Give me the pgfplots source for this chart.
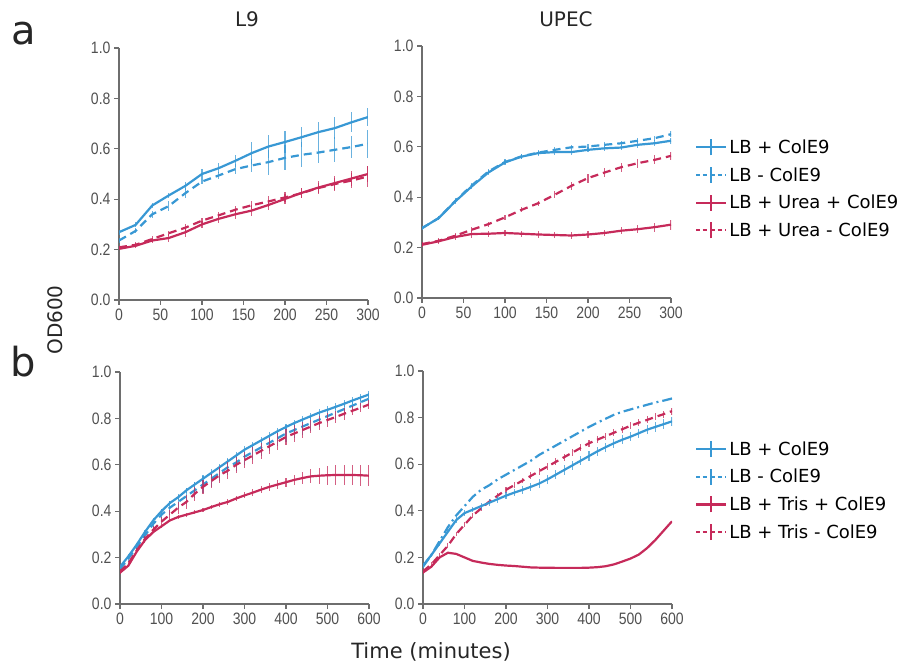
\documentclass[border=0pt]{standalone}
\usepackage{pgfplots}
\pgfplotsset{compat=1.18}
\usepackage{fontspec}
\setmainfont{DejaVu Sans}
\newfontfamily\ticksfont[FakeStretch=0.85]{Liberation Sans}
\definecolor{cblue}{RGB}{56,152,212}
\definecolor{cred}{RGB}{198,42,90}
\definecolor{axgray}{RGB}{110,110,110}
\definecolor{tickgray}{RGB}{80,80,80}
\pgfplotsset{
  legend image code/.code={%
    \draw[#1, line width=2.2pt] (0pt,0pt) -- (30pt,0pt);
    \draw[#1, solid, line width=1.5pt] (15pt,-8pt) -- (15pt,8pt);},
  myaxis/.style={scale only axis, width=249pt, xmin=0, ymin=0, ymax=1,
    axis x line*=bottom, axis y line*=left,
    axis line style={axgray, line width=1.2pt},
    tick style={axgray, line width=1.2pt}, major tick length=5pt,
    xtick align=outside, ytick align=outside,
    ytick={0,0.2,0.4,0.6,0.8,1.0},
    yticklabel style={/pgf/number format/.cd, fixed, fixed zerofill, precision=1},
    /pgf/number format/assume math mode=true,
    tick label style={font=\ticksfont\fontsize{16.5}{18}\selectfont, text=tickgray},
    legend style={draw=none, fill=none, font=\fontsize{18}{20}\selectfont,
      anchor=north west, row sep=8.5pt, inner sep=0pt, nodes={inner sep=2pt}},
    legend cell align=left},
  bsol/.style={cblue, line width=2.2pt, solid, mark=none},
  bdash/.style={cblue, line width=2.2pt, dash pattern=on 8pt off 5pt, mark=none},
  bdashdot/.style={cblue, line width=2.2pt, dash pattern=on 10pt off 4pt on 2pt off 4pt, mark=none},
  rsol/.style={cred, line width=2.2pt, solid, mark=none},
  rdash/.style={cred, line width=2.2pt, dash pattern=on 8pt off 5pt, mark=none},
  legdash/.style={dash pattern=on 4.5pt off 3pt, dash phase=1pt},
  eb/.style={error bars/y dir=both, error bars/y explicit, error bars/error mark=none,
    error bars/error bar style={line width=1.1pt, solid, opacity=0.75}},
}
\begin{document}
\begin{tikzpicture}[x=1pt,y=1pt]
\useasboundingbox (0,0) rectangle (905,667);
% ---------------- a, L9
\begin{axis}[myaxis, at={(119pt,367pt)}, anchor=south west, height=252pt,
  xmax=300, xtick={0,50,100,150,200,250,300}]
\addplot[bsol, eb] coordinates {
(0,0.269)+-(0,0.01) (20,0.298)+-(0,0.01) (40,0.375)+-(0,0.01) (60,0.415)+-(0,0.01)
(80,0.453)+-(0,0.015) (100,0.500)+-(0,0.02) (120,0.523)+-(0,0.02) (140,0.552)+-(0,0.025)
(160,0.583)+-(0,0.045) (180,0.609)+-(0,0.045) (200,0.627)+-(0,0.045) (220,0.646)+-(0,0.04)
(240,0.666)+-(0,0.04) (260,0.682)+-(0,0.045) (280,0.705)+-(0,0.04) (300,0.726)+-(0,0.035)};
\addplot[bdash, eb] coordinates {
(0,0.236)+-(0,0.01) (20,0.274)+-(0,0.01) (40,0.340)+-(0,0.015) (60,0.373)+-(0,0.02)
(80,0.424)+-(0,0.02) (100,0.470)+-(0,0.01) (120,0.494)+-(0,0.015) (140,0.519)+-(0,0.02)
(160,0.534)+-(0,0.025) (180,0.547)+-(0,0.05) (200,0.564)+-(0,0.05) (220,0.576)+-(0,0.05)
(240,0.585)+-(0,0.04) (260,0.596)+-(0,0.05) (280,0.607)+-(0,0.045) (300,0.620)+-(0,0.055)};
\addplot[rsol, eb] coordinates {
(0,0.203)+-(0,0.005) (20,0.215)+-(0,0.01) (40,0.236)+-(0,0.01) (60,0.246)+-(0,0.015)
(80,0.269)+-(0,0.02) (100,0.300)+-(0,0.015) (120,0.322)+-(0,0.015) (140,0.340)+-(0,0.02)
(160,0.355)+-(0,0.02) (180,0.377)+-(0,0.02) (200,0.401)+-(0,0.02) (220,0.425)+-(0,0.02)
(240,0.446)+-(0,0.025) (260,0.464)+-(0,0.03) (280,0.482)+-(0,0.03) (300,0.500)+-(0,0.03)};
\addplot[rdash, eb] coordinates {
(0,0.209)+-(0,0.005) (20,0.219)+-(0,0.01) (40,0.242)+-(0,0.01) (60,0.265)+-(0,0.01)
(80,0.287)+-(0,0.015) (100,0.315)+-(0,0.01) (120,0.336)+-(0,0.015) (140,0.358)+-(0,0.015)
(160,0.376)+-(0,0.015) (180,0.391)+-(0,0.02) (200,0.407)+-(0,0.02) (220,0.424)+-(0,0.02)
(240,0.444)+-(0,0.02) (260,0.460)+-(0,0.025) (280,0.474)+-(0,0.03) (300,0.490)+-(0,0.04)};
\end{axis}
% ---------------- a, UPEC
\begin{axis}[myaxis, at={(422pt,369pt)}, anchor=south west, height=252pt,
  xmax=300, xtick={0,50,100,150,200,250,300},
  legend style={at={(1.096,0.637)}}]
\addlegendimage{bsol}\addlegendentry{LB + ColE9}
\addlegendimage{bdash, legdash}\addlegendentry{LB - ColE9}
\addlegendimage{rsol}\addlegendentry{LB + Urea + ColE9}
\addlegendimage{rdash, legdash}\addlegendentry{LB + Urea - ColE9}
\addplot[forget plot, bsol, eb] coordinates {
(0,0.277)+-(0,0.008) (20,0.317)+-(0,0.008) (40,0.383)+-(0,0.01) (60,0.443)+-(0,0.01)
(80,0.498)+-(0,0.01) (100,0.538)+-(0,0.01) (120,0.561)+-(0,0.01) (140,0.575)+-(0,0.01)
(160,0.579)+-(0,0.01) (180,0.579)+-(0,0.01) (200,0.588)+-(0,0.01) (220,0.594)+-(0,0.01)
(240,0.597)+-(0,0.01) (260,0.608)+-(0,0.012) (280,0.614)+-(0,0.012) (300,0.624)+-(0,0.012)};
\addplot[forget plot, bdash, eb] coordinates {
(0,0.277)+-(0,0.008) (20,0.317)+-(0,0.008) (40,0.385)+-(0,0.01) (60,0.447)+-(0,0.01)
(80,0.502)+-(0,0.01) (100,0.540)+-(0,0.01) (120,0.562)+-(0,0.01) (140,0.577)+-(0,0.01)
(160,0.588)+-(0,0.01) (180,0.598)+-(0,0.01) (200,0.601)+-(0,0.01) (220,0.608)+-(0,0.01)
(240,0.614)+-(0,0.01) (260,0.624)+-(0,0.01) (280,0.634)+-(0,0.01) (300,0.650)+-(0,0.012)};
\addplot[forget plot, rsol, eb] coordinates {
(0,0.211)+-(0,0.01) (20,0.225)+-(0,0.012) (40,0.242)+-(0,0.012) (60,0.254)+-(0,0.015)
(80,0.255)+-(0,0.012) (100,0.258)+-(0,0.012) (120,0.255)+-(0,0.012) (140,0.252)+-(0,0.012)
(160,0.250)+-(0,0.012) (180,0.248)+-(0,0.012) (200,0.252)+-(0,0.012) (220,0.258)+-(0,0.012)
(240,0.267)+-(0,0.015) (260,0.273)+-(0,0.015) (280,0.281)+-(0,0.018) (300,0.291)+-(0,0.02)};
\addplot[forget plot, rdash, eb] coordinates {
(0,0.214)+-(0,0.008) (20,0.227)+-(0,0.008) (40,0.247)+-(0,0.01) (60,0.271)+-(0,0.01)
(80,0.293)+-(0,0.01) (100,0.320)+-(0,0.01) (120,0.350)+-(0,0.01) (140,0.376)+-(0,0.01)
(160,0.410)+-(0,0.015) (180,0.445)+-(0,0.015) (200,0.476)+-(0,0.018) (220,0.498)+-(0,0.018)
(240,0.519)+-(0,0.018) (260,0.535)+-(0,0.018) (280,0.548)+-(0,0.018) (300,0.564)+-(0,0.015)};
\end{axis}
% ---------------- b, L9
\begin{axis}[myaxis, at={(120pt,63pt)}, anchor=south west, height=232pt,
  xmax=600, xtick={0,100,200,300,400,500,600}]
\addplot[bsol, eb] coordinates {
(0,0.160)+-(0,0.01) (20,0.205)+-(0,0.01) (40,0.255)+-(0,0.01) (60,0.310)+-(0,0.01)
(80,0.360)+-(0,0.01) (100,0.400)+-(0,0.01) (120,0.435)+-(0,0.01) (140,0.460)+-(0,0.012)
(160,0.490)+-(0,0.012) (180,0.515)+-(0,0.012) (200,0.540)+-(0,0.015) (220,0.565)+-(0,0.015)
(240,0.590)+-(0,0.015) (260,0.615)+-(0,0.015) (280,0.640)+-(0,0.015) (300,0.665)+-(0,0.015)
(320,0.685)+-(0,0.015) (340,0.705)+-(0,0.015) (360,0.725)+-(0,0.015) (380,0.745)+-(0,0.015)
(400,0.763)+-(0,0.015) (420,0.780)+-(0,0.015) (440,0.795)+-(0,0.015) (460,0.810)+-(0,0.015)
(480,0.825)+-(0,0.015) (500,0.837)+-(0,0.015) (520,0.850)+-(0,0.015) (540,0.863)+-(0,0.015)
(560,0.877)+-(0,0.015) (580,0.890)+-(0,0.015) (600,0.903)+-(0,0.015)};
\addplot[bdash, eb] coordinates {
(0,0.150)+-(0,0.01) (20,0.195)+-(0,0.01) (40,0.245)+-(0,0.015) (60,0.295)+-(0,0.02)
(80,0.345)+-(0,0.02) (100,0.385)+-(0,0.025) (120,0.415)+-(0,0.03) (140,0.440)+-(0,0.03)
(160,0.465)+-(0,0.035) (180,0.490)+-(0,0.035) (200,0.515)+-(0,0.035) (220,0.540)+-(0,0.035)
(240,0.565)+-(0,0.035) (260,0.590)+-(0,0.035) (280,0.610)+-(0,0.035) (300,0.635)+-(0,0.035)
(320,0.655)+-(0,0.035) (340,0.675)+-(0,0.035) (360,0.695)+-(0,0.035) (380,0.715)+-(0,0.035)
(400,0.735)+-(0,0.035) (420,0.750)+-(0,0.035) (440,0.765)+-(0,0.035) (460,0.780)+-(0,0.035)
(480,0.795)+-(0,0.03) (500,0.810)+-(0,0.03) (520,0.825)+-(0,0.03) (540,0.840)+-(0,0.03)
(560,0.855)+-(0,0.025) (580,0.870)+-(0,0.025) (600,0.885)+-(0,0.025)};
\addplot[rdash, eb] coordinates {
(0,0.140)+-(0,0.01) (20,0.175)+-(0,0.01) (40,0.230)+-(0,0.01) (60,0.280)+-(0,0.015)
(80,0.320)+-(0,0.015) (100,0.355)+-(0,0.02) (120,0.385)+-(0,0.02) (140,0.415)+-(0,0.025)
(160,0.440)+-(0,0.03) (180,0.475)+-(0,0.03) (200,0.505)+-(0,0.03) (220,0.530)+-(0,0.03)
(240,0.555)+-(0,0.035) (260,0.575)+-(0,0.035) (280,0.600)+-(0,0.035) (300,0.620)+-(0,0.035)
(320,0.640)+-(0,0.035) (340,0.660)+-(0,0.035) (360,0.680)+-(0,0.035) (380,0.700)+-(0,0.035)
(400,0.720)+-(0,0.035) (420,0.735)+-(0,0.035) (440,0.750)+-(0,0.035) (460,0.765)+-(0,0.03)
(480,0.780)+-(0,0.03) (500,0.793)+-(0,0.03) (520,0.806)+-(0,0.025) (540,0.820)+-(0,0.025)
(560,0.833)+-(0,0.02) (580,0.846)+-(0,0.02) (600,0.860)+-(0,0.02)};
\addplot[rsol, eb] coordinates {
(0,0.135)+-(0,0.005) (20,0.165)+-(0,0.005) (40,0.225)+-(0,0.005) (60,0.275)+-(0,0.005)
(80,0.310)+-(0,0.006) (100,0.335)+-(0,0.006) (120,0.360)+-(0,0.007) (140,0.375)+-(0,0.008)
(160,0.385)+-(0,0.008) (180,0.395)+-(0,0.009) (200,0.405)+-(0,0.01) (220,0.418)+-(0,0.01)
(240,0.430)+-(0,0.01) (260,0.440)+-(0,0.012) (280,0.455)+-(0,0.012) (300,0.468)+-(0,0.013)
(320,0.480)+-(0,0.014) (340,0.493)+-(0,0.015) (360,0.505)+-(0,0.016) (380,0.515)+-(0,0.018)
(400,0.525)+-(0,0.02) (420,0.535)+-(0,0.022) (440,0.543)+-(0,0.025) (460,0.550)+-(0,0.03)
(480,0.553)+-(0,0.035) (500,0.555)+-(0,0.04) (520,0.556)+-(0,0.045) (540,0.556)+-(0,0.045)
(560,0.556)+-(0,0.045) (580,0.555)+-(0,0.045) (600,0.553)+-(0,0.045)};
\end{axis}
% ---------------- b, UPEC
\begin{axis}[myaxis, at={(423pt,63pt)}, anchor=south west, height=233pt,
  xmax=600, xtick={0,100,200,300,400,500,600},
  legend style={at={(1.092,0.707)}}]
\addlegendimage{bsol}\addlegendentry{LB + ColE9}
\addlegendimage{bdash, legdash}\addlegendentry{LB - ColE9}
\addlegendimage{rsol}\addlegendentry{LB + Tris + ColE9}
\addlegendimage{rdash, legdash}\addlegendentry{LB + Tris - ColE9}
\addplot[forget plot, bdashdot] coordinates {
(0,0.160) (20,0.210) (40,0.270) (60,0.330) (80,0.380) (100,0.420) (120,0.460) (140,0.490)
(160,0.510) (180,0.535) (200,0.555) (220,0.575) (240,0.595) (260,0.615) (280,0.640) (300,0.660)
(320,0.680) (340,0.700) (360,0.720) (380,0.740) (400,0.760) (420,0.778) (440,0.795) (460,0.812)
(480,0.825) (500,0.835) (520,0.845) (540,0.855) (560,0.865) (580,0.873) (600,0.882)};
\addplot[forget plot, rdash, eb] coordinates {
(0,0.140)+-(0,0.01) (20,0.170)+-(0,0.01) (40,0.210)+-(0,0.01) (60,0.250)+-(0,0.01)
(80,0.300)+-(0,0.01) (100,0.340)+-(0,0.01) (120,0.380)+-(0,0.01) (140,0.410)+-(0,0.01)
(160,0.440)+-(0,0.012) (180,0.465)+-(0,0.012) (200,0.490)+-(0,0.012) (220,0.510)+-(0,0.012)
(240,0.530)+-(0,0.012) (260,0.550)+-(0,0.015) (280,0.570)+-(0,0.015) (300,0.590)+-(0,0.015)
(320,0.610)+-(0,0.015) (340,0.630)+-(0,0.015) (360,0.650)+-(0,0.015) (380,0.670)+-(0,0.015)
(400,0.690)+-(0,0.015) (420,0.705)+-(0,0.015) (440,0.720)+-(0,0.015) (460,0.735)+-(0,0.015)
(480,0.750)+-(0,0.015) (500,0.765)+-(0,0.015) (520,0.778)+-(0,0.015) (540,0.790)+-(0,0.015)
(560,0.803)+-(0,0.015) (580,0.815)+-(0,0.015) (600,0.828)+-(0,0.015)};
\addplot[forget plot, bsol, eb] coordinates {
(0,0.165)+-(0,0.01) (20,0.210)+-(0,0.01) (40,0.260)+-(0,0.01) (60,0.310)+-(0,0.01)
(80,0.360)+-(0,0.012) (100,0.390)+-(0,0.012) (120,0.405)+-(0,0.012) (140,0.420)+-(0,0.015)
(160,0.435)+-(0,0.015) (180,0.450)+-(0,0.015) (200,0.465)+-(0,0.015) (220,0.478)+-(0,0.015)
(240,0.490)+-(0,0.018) (260,0.503)+-(0,0.018) (280,0.517)+-(0,0.018) (300,0.535)+-(0,0.018)
(320,0.555)+-(0,0.02) (340,0.575)+-(0,0.02) (360,0.595)+-(0,0.02) (380,0.615)+-(0,0.02)
(400,0.635)+-(0,0.02) (420,0.655)+-(0,0.02) (440,0.673)+-(0,0.02) (460,0.690)+-(0,0.02)
(480,0.705)+-(0,0.02) (500,0.718)+-(0,0.02) (520,0.733)+-(0,0.02) (540,0.748)+-(0,0.02)
(560,0.760)+-(0,0.02) (580,0.772)+-(0,0.02) (600,0.784)+-(0,0.02)};
\addplot[forget plot, rsol] coordinates {
(0,0.135) (20,0.160) (40,0.200) (60,0.220) (80,0.215) (100,0.200) (120,0.185) (140,0.178)
(160,0.172) (180,0.168) (200,0.165) (220,0.163) (240,0.160) (260,0.157) (280,0.156) (300,0.156)
(320,0.155) (340,0.155) (360,0.155) (380,0.155) (400,0.156) (420,0.158) (440,0.162) (460,0.170)
(480,0.182) (500,0.195) (520,0.212) (540,0.240) (560,0.275) (580,0.315) (600,0.355)};
\end{axis}
% ---------------- labels
\node[anchor=base west, inner sep=0pt, font=\fontsize{40}{44}\selectfont, text=black!85] at (11,622) {a};
\node[anchor=base west, inner sep=0pt, font=\fontsize{40}{44}\selectfont, text=black!85] at (10,290) {b};
\node[anchor=base, inner sep=0pt, font=\fontsize{20}{22}\selectfont, text=black!85] at (247,640) {L9};
\node[anchor=base, inner sep=0pt, font=\fontsize{20}{22}\selectfont, text=black!85] at (566,640) {UPEC};
\node[rotate=90, inner sep=0pt, font=\fontsize{20}{22}\selectfont, text=black!85] at (55,347) {OD600};
\node[anchor=base, inner sep=0pt, font=\fontsize{21}{23}\selectfont, text=black!85] at (431,9) {Time (minutes)};
\end{tikzpicture}
\end{document}
